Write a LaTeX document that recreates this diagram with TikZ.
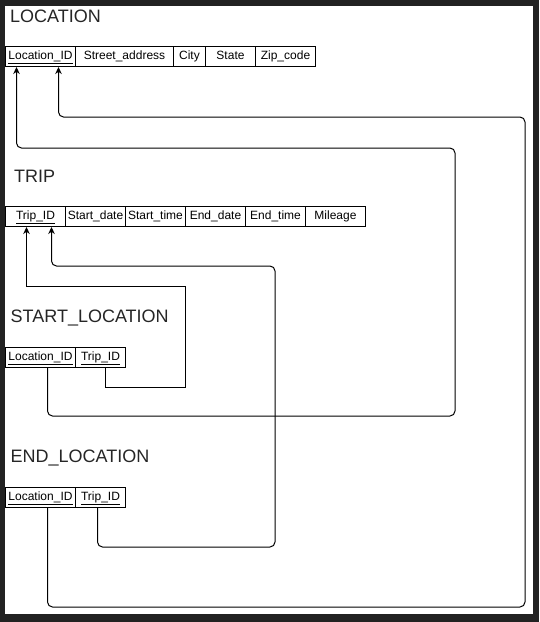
\documentclass[tikz,border=0pt]{standalone}
\usepackage{fontspec}
\setmainfont{Liberation Sans}
\usetikzlibrary{arrows.meta, calc}
\definecolor{frame}{HTML}{222222}
\tikzset{cell/.style={draw, line width=1pt, anchor=north west, minimum height=20pt, inner sep=0pt, text height=8.5pt, text depth=2.5pt, font=\fontsize{12}{14}\selectfont}}
\tikzset{title/.style={anchor=base west, inner sep=0pt, text=black!85, font=\fontsize{18}{20}\selectfont}}
\tikzset{fk/.style={line width=1pt, -{Stealth[length=7pt, width=6.5pt]}}}

\begin{document}
\begin{tikzpicture}[x=1pt, y=-1pt]
		\fill[frame] (0, 0) rectangle (539, 622);
		\fill[white] (5, 6) rectangle (533, 614);
		\node[title] (loc) at (10, 22) {LOCATION};
		\foreach \n/\t/\x/\w in {lid/{\underline{Location\_ID}}/5/70, street/Street\_address/75/98, city/City/173/32, state/State/205/50, zip/Zip\_code/255/60} { \node[cell, minimum width=\w pt] (\n) at (\x, 46) {\t}; }
		\node[title] (trip) at (14, 182) {TRIP};
		\foreach \n/\t/\x in {tid/{\underline{Trip\_ID}}/5, sdate/Start\_date/65, stime/Start\_time/125, edate/End\_date/185, etime/End\_time/245, mileage/Mileage/305} { \node[cell, minimum width=60pt] (\n) at (\x, 206) {\t}; }
		\node[title] (sloc) at (10.5, 322) {START\_LOCATION};
		\node[cell, minimum width=70pt] (slid) at (5, 347) {\underline{Location\_ID}};
		\node[cell, minimum width=50pt] (stid) at (75, 347) {\underline{Trip\_ID}};
		\node[title] (eloc) at (10.5, 462) {END\_LOCATION};
		\node[cell, minimum width=70pt] (elid) at (5, 487) {\underline{Location\_ID}};
		\node[cell, minimum width=50pt] (etid) at (75, 487) {\underline{Trip\_ID}};
		\draw[fk, rounded corners=5pt] ([xshift=7pt]slid.south) -- ++(0, 48) -| (455, 148) -| ([xshift=-24pt]lid.south);
		\draw[fk, rounded corners=5pt] ([xshift=7pt]elid.south) -- ++(0, 99) -| (525, 117) -| ([xshift=18pt]lid.south);
		\draw[fk] ([xshift=5pt]stid.south) -- ++(0, 19) -| (185, 286) -| ([xshift=-9pt]tid.south);
		\draw[fk, rounded corners=5pt] ([xshift=-3pt]etid.south) -- ++(0, 39) -| (275, 266) -| ([xshift=16pt]tid.south);
	\end{tikzpicture}
\end{document}
